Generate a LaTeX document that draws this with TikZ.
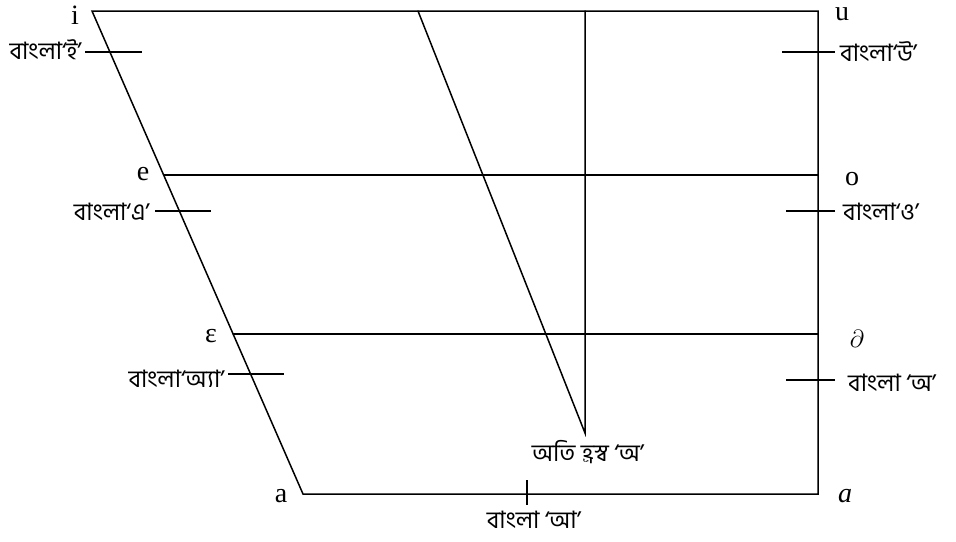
\documentclass[tikz,border=0pt]{standalone}
\usepackage{fontspec}
\setmainfont{Liberation Serif}
\newfontfamily\bnfont[Script=Bengali]{Hind Siliguri}
\usetikzlibrary{calc,positioning}

\begin{document}
\begin{tikzpicture}[
  x=1pt, y=-1pt,
  every node/.style={inner sep=0pt},
  edge/.style={line width=1.5pt, line cap=round},
  tick/.style={line width=1.5pt},
  vowel/.style={font=\fontsize{28}{30}\selectfont},
  bangla/.style={font=\bnfont\fontsize{24}{26}\selectfont},
]
\useasboundingbox (0,0) rectangle (956,541);

% chart corners
\coordinate (tl) at (92,11);
\coordinate (tr) at (818,11);
\coordinate (br) at (818,494);
\coordinate (bl) at (303,494);
\coordinate (emid) at ($(tl)!{164/483}!(bl)$);
\coordinate (epsl) at ($(tl)!{323/483}!(bl)$);
\coordinate (ctop) at (418,11);
\coordinate (ctr) at (585,11);
\coordinate (cbot) at (585,433);

\draw[edge] (tl) -- (tr) -- (br) -- (bl) -- cycle;
\draw[edge] (emid) -- (emid -| br);
\draw[edge] (epsl) -- (epsl -| br);
\draw[edge] (ctop) -- (cbot) -- (ctr);

% vowel symbols
\node[vowel] (i) at (75,15) {i};
\node[vowel, anchor=west] (u) at (835,14) {u};
\node[vowel] (e) at (143,174) {e};
\node[vowel] (o) at (852,179) {o};
\node[vowel] (eps) at (211,336) {ε};
\node[vowel] (schwa) at (857,339) {$\partial$};
\node[vowel] (a) at (281,496) {a};
\node[vowel] (aa) at (845,496) {\textit{a}};

% bangla labels with ticks
\node[bangla, anchor=east] (bi) at (82,50) {বাংলা‘ই’};
\draw[tick] (bi.east) ++(3,2) -- +(57,0);
\node[bangla, anchor=west] (bu) at (840,52) {বাংলা‘উ’};
\draw[tick] (bu.west) ++(-5,0) -- +(-53,0);
\node[bangla, anchor=east] (be) at (150,212) {বাংলা‘এ’};
\draw[tick] (be.east) ++(5,-1) -- +(56,0);
\node[bangla, anchor=west] (bo) at (843,212) {বাংলা‘ও’};
\draw[tick] (bo.west) ++(-8,-1) -- +(-49,0);
\node[bangla, anchor=east] (bae) at (225,379) {বাংলা‘অ্যা’};
\draw[tick] (bae.east) ++(3,-5) -- +(56,0);
\node[bangla, anchor=west] (bo2) at (848,383) {বাংলা ‘অ’};
\draw[tick] (bo2.west) ++(-13,-3) -- +(-49,0);
\node[bangla] (short) at (588,452) {অতি হ্রস্ব ‘অ’};
\node[bangla] (baa) at (534,520) {বাংলা ‘আ’};
\draw[tick] (527,480) -- (527,505);
\end{tikzpicture}
\end{document}
